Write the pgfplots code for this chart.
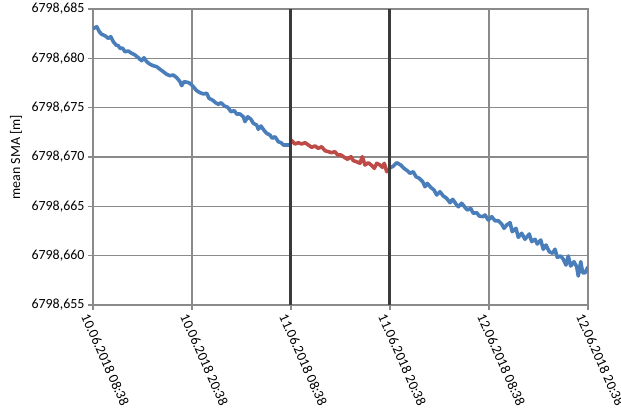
\documentclass[border=0pt]{standalone}
\usepackage{pgfplots}
\pgfplotsset{compat=1.18}
\usepackage{fontspec}
\setmainfont{Carlito}
\definecolor{sblue}{HTML}{4A7EBB}
\definecolor{sred}{HTML}{BE4B48}
\definecolor{gridc}{HTML}{8A8A8A}
\definecolor{vline}{HTML}{3A3A3A}
% y values are SMA - 6798 m (offset avoids floating point loss)
\pgfplotstableread{
t v
0.00 0.68300
0.45 0.68321
0.76 0.68270
1.05 0.68244
1.45 0.68229
1.85 0.68203
2.15 0.68219
2.46 0.68169
2.79 0.68135
3.07 0.68128
3.27 0.68102
3.60 0.68102
3.88 0.68067
4.28 0.68074
4.69 0.68051
5.09 0.68034
5.49 0.68006
5.90 0.67976
6.18 0.68006
6.51 0.67966
6.91 0.67940
7.31 0.67925
7.72 0.67915
8.12 0.67889
8.52 0.67865
8.93 0.67838
9.33 0.67824
9.73 0.67831
10.15 0.67804
10.55 0.67763
10.75 0.67723
11.03 0.67763
11.43 0.67757
11.76 0.67747
12.16 0.67712
12.57 0.67672
12.97 0.67652
13.37 0.67639
13.78 0.67646
14.06 0.67595
14.46 0.67578
14.87 0.67550
15.19 0.67534
15.52 0.67550
15.92 0.67517
16.33 0.67504
16.73 0.67459
17.13 0.67469
17.42 0.67436
17.82 0.67436
18.22 0.67408
18.42 0.67358
18.75 0.67408
19.15 0.67382
19.43 0.67342
19.84 0.67324
20.04 0.67281
20.36 0.67314
20.76 0.67267
21.05 0.67240
21.45 0.67223
21.73 0.67190
22.06 0.67206
22.46 0.67155
22.79 0.67145
23.07 0.67122
23.48 0.67122
24.00 0.67122
}\blueA
\pgfplotstableread{
t v
24.00 0.67172
24.48 0.67132
24.88 0.67145
25.30 0.67132
25.70 0.67145
26.10 0.67122
26.51 0.67098
26.91 0.67112
27.31 0.67088
27.72 0.67104
28.12 0.67064
28.52 0.67054
28.93 0.67044
29.33 0.67054
29.66 0.67020
30.06 0.67020
30.46 0.66997
30.87 0.66977
31.27 0.67003
31.55 0.66963
31.96 0.66952
32.36 0.66936
32.64 0.67003
32.97 0.66919
33.37 0.66942
33.85 0.66909
34.10 0.66885
34.39 0.66936
34.79 0.66919
35.07 0.66896
35.31 0.66936
35.60 0.66851
35.88 0.66875
36.00 0.66889
}\redB
\pgfplotstableread{
t v
36.00 0.66895
36.33 0.66902
36.81 0.66942
37.30 0.66919
37.70 0.66885
38.10 0.66861
38.42 0.66835
38.82 0.66851
39.15 0.66800
39.55 0.66784
39.96 0.66750
40.24 0.66699
40.52 0.66733
40.93 0.66693
41.33 0.66666
41.66 0.66615
42.06 0.66648
42.46 0.66605
42.87 0.66581
43.27 0.66537
43.60 0.66571
44.00 0.66524
44.28 0.66496
44.69 0.66531
45.09 0.66490
45.37 0.66463
45.78 0.66480
46.10 0.66429
46.51 0.66436
46.82 0.66402
47.24 0.66395
47.52 0.66412
47.92 0.66361
48.33 0.66395
48.73 0.66354
49.13 0.66354
49.54 0.66321
49.82 0.66277
50.15 0.66311
50.55 0.66334
50.82 0.66243
51.27 0.66277
51.55 0.66186
51.96 0.66227
52.36 0.66166
52.88 0.66220
53.18 0.66142
53.58 0.66166
53.85 0.66118
54.27 0.66159
54.58 0.66065
54.91 0.66108
55.31 0.66040
55.72 0.66024
56.00 0.66065
56.28 0.65983
56.69 0.65997
57.01 0.65963
57.33 0.65905
57.61 0.65997
57.90 0.65895
58.30 0.65939
58.63 0.65888
58.82 0.65794
59.12 0.65939
59.36 0.65827
59.64 0.65827
59.92 0.65872
60.00 0.65885
}\blueC
\begin{document}
\begin{tikzpicture}
\begin{axis}[
  scale only axis, width=495bp, height=296bp,
  xmin=0, xmax=60, ymin=0.655, ymax=0.685,
  xtick={0,12,24,36,48,60},
  xticklabels={10.06.2018 08:38,10.06.2018 20:38,11.06.2018 08:38,11.06.2018 20:38,12.06.2018 08:38,12.06.2018 20:38},
  ytick={0.655,0.660,0.665,0.670,0.675,0.680,0.685},
  yticklabels={{6798,655},{6798,660},{6798,665},{6798,670},{6798,675},{6798,680},{6798,685}},
  grid=major,
  major grid style={gridc, line width=1.4bp},
  axis line style={gridc, line width=1.4bp},
  tick style={gridc, line width=1.2bp},
  tick align=outside, major tick length=5bp,
  xtick pos=lower, ytick pos=left,
  tick label style={font=\fontsize{14}{16}\selectfont, text=black},
  xticklabel style={rotate=-66, anchor=north west, inner sep=1bp, yshift=-3bp},
  ylabel={mean SMA [m]},
  label style={font=\fontsize{14}{16}\selectfont},
  ylabel style={at={(axis description cs:-0.1556,0.5)}, anchor=center},
]
\addplot[sblue, line width=3.6bp, line join=round] table[x=t,y=v] {\blueA};
\addplot[sred, line width=3.6bp, line join=round] table[x=t,y=v] {\redB};
\addplot[sblue, line width=3.6bp, line join=round] table[x=t,y=v] {\blueC};
\addplot[vline, line width=3bp] coordinates {(24,0.655) (24,0.685)};
\addplot[vline, line width=3bp] coordinates {(36,0.655) (36,0.685)};
\end{axis}
\pgfresetboundingbox
\path[use as bounding box] (-93bp,-105bp) rectangle (528bp,305bp);
\end{tikzpicture}
\end{document}
